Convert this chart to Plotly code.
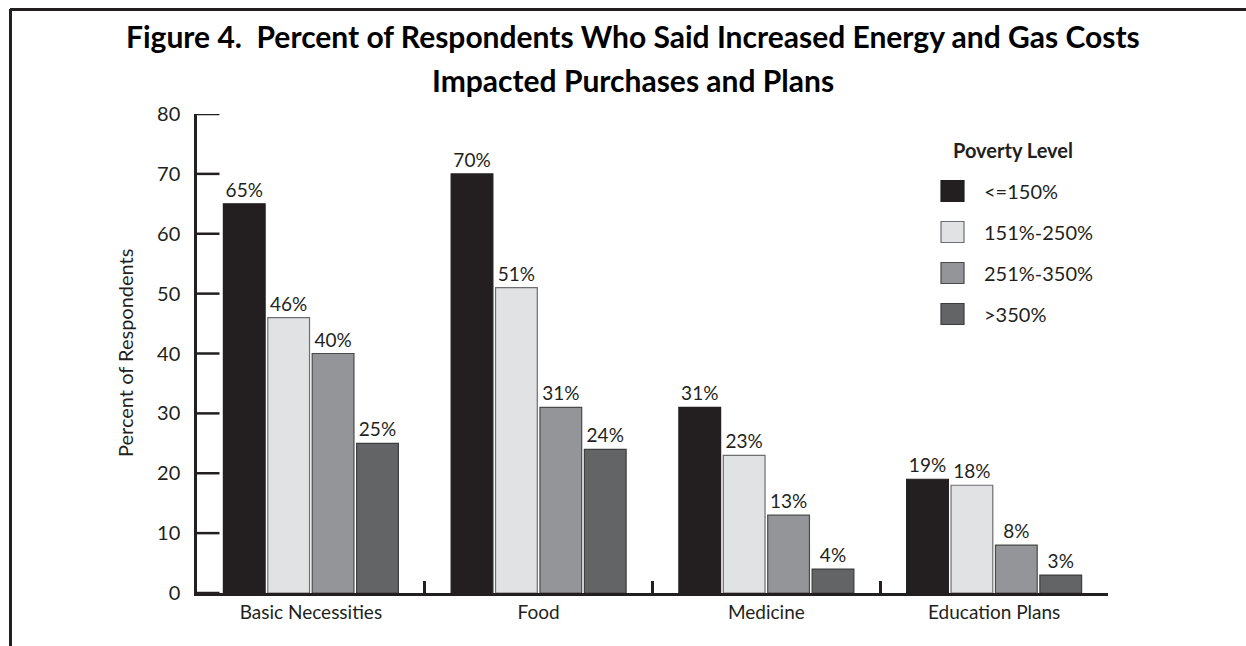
import plotly.graph_objects as go

# Chart data
categories = ["Basic Necessities", "Food", "Medicine", "Education Plans"]
series_names = ["<=150%", "151%-250%", "251%-350%", ">350%"]
values = {
    "<=150%": [65, 70, 31, 19],
    "151%-250%": [46, 51, 23, 18],
    "251%-350%": [40, 31, 13, 8],
    ">350%": [25, 24, 4, 3],
}
y_ticks = [0, 10, 20, 30, 40, 50, 60, 70, 80]

fill_colors = ["#231f20", "#e1e2e4", "#949598", "#636466"]
edge_colors = ["#231f20", "#6d6e70", "#4a4a4c", "#3d3d3f"]
ink = "#231f20"
font_family = "Lato, 'Open Sans', sans-serif"

# Page geometry (pixels) used to place the plot area and decorations
W, H = 1246, 646
L, R, T, B = 197, 1108, 114, 593


def px(x):
    return (x - L) / (R - L)


def py(y):
    return (B - y) / (B - T)


fig = go.Figure()
for name, fc, ec in zip(series_names, fill_colors, edge_colors):
    vals = values[name]
    fig.add_trace(go.Bar(
        x=categories,
        y=vals,
        name=name,
        marker=dict(color=fc, line=dict(color=ec, width=1.2)),
        text=[f"{v}%" for v in vals],
        textposition="outside",
        textfont=dict(family=font_family, size=19, color=ink),
        cliponaxis=False,
        showlegend=False,
    ))

shapes = []
annotations = []

# Frame around the figure (top and left edges)
shapes.append(dict(type="line", xref="paper", yref="paper",
                   x0=px(10), x1=px(W + 5), y0=py(9.5), y1=py(9.5),
                   line=dict(color=ink, width=3)))
shapes.append(dict(type="line", xref="paper", yref="paper",
                   x0=px(10.5), x1=px(10.5), y0=py(9), y1=py(H + 5),
                   line=dict(color=ink, width=3)))

# Y tick marks pointing into the plot area
for v in y_ticks:
    shapes.append(dict(type="line", xref="paper", yref="y",
                       x0=0, x1=px(219.5), y0=v, y1=v,
                       line=dict(color=ink, width=2.5), layer="above"))

# Title lines
title_font = dict(family=font_family, size=30, color="#000000")
annotations.append(dict(
    text="<b>Figure 4.&nbsp;&nbsp;Percent of Respondents Who Said Increased Energy and Gas Costs</b>",
    xref="paper", yref="paper", x=px(633), y=py(36), xanchor="center", yanchor="middle",
    showarrow=False, font=title_font))
annotations.append(dict(
    text="<b>Impacted Purchases and Plans</b>",
    xref="paper", yref="paper", x=px(633), y=py(80), xanchor="center", yanchor="middle",
    showarrow=False, font=title_font))

# Y axis title
annotations.append(dict(
    text="Percent of Respondents", textangle=-90,
    xref="paper", yref="paper", x=px(125), y=py(353), xanchor="center", yanchor="middle",
    showarrow=False, font=dict(family=font_family, size=20, color=ink)))

# Legend drawn as swatches with labels
annotations.append(dict(
    text="<b>Poverty Level</b>",
    xref="paper", yref="paper", x=px(951), y=py(150), xanchor="left", yanchor="middle",
    showarrow=False, font=dict(family=font_family, size=20, color=ink)))
for i, (name, fc, ec) in enumerate(zip(series_names, fill_colors, edge_colors)):
    cy = 191 + 41 * i
    shapes.append(dict(type="rect", xref="paper", yref="paper",
                       x0=px(941), x1=px(964), y0=py(cy - 10.5), y1=py(cy + 10.5),
                       fillcolor=fc, line=dict(color=ec, width=1.2)))
    annotations.append(dict(
        text=name, xref="paper", yref="paper", x=px(982), y=py(cy), xanchor="left",
        yanchor="middle", showarrow=False,
        font=dict(family=font_family, size=20, color=ink)))

fig.update_layout(
    width=W, height=H,
    margin=dict(l=L, r=W - R, t=T, b=H - B, pad=0),
    paper_bgcolor="white", plot_bgcolor="white",
    barmode="group", bargap=0.22, bargroupgap=0.06,
    font=dict(family=font_family, color=ink),
    shapes=shapes, annotations=annotations,
    xaxis=dict(
        type="category", showline=True, linecolor=ink, linewidth=2.5,
        ticks="inside", tickson="boundaries", ticklen=12, tickwidth=2.5, tickcolor=ink,
        showgrid=False, zeroline=False,
        tickfont=dict(family=font_family, size=19, color=ink),
    ),
    yaxis=dict(
        range=[0, 80], tickvals=y_ticks, showline=True, linecolor=ink, linewidth=2.5,
        ticks="", showgrid=False, zeroline=False, ticklabelstandoff=10,
        tickfont=dict(family=font_family, size=20, color=ink),
    ),
)

fig.write_html("out.html")
